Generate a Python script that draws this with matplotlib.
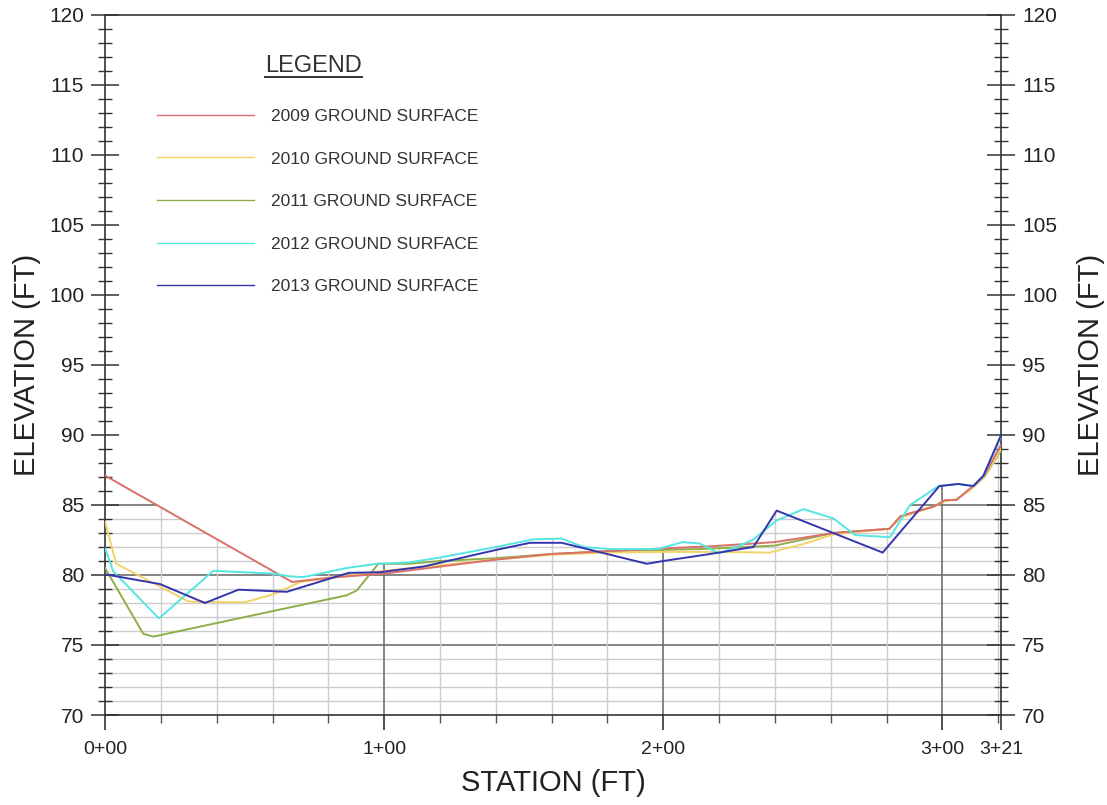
import numpy as np
import matplotlib.pyplot as plt
from matplotlib.lines import Line2D
from matplotlib.patches import Polygon
from matplotlib.ticker import FixedLocator, MultipleLocator

plt.rcParams['font.family'] = ['Liberation Sans', 'DejaVu Sans']

# ground surface surveys: station (ft) / elevation (ft)
st_2009 = [0, 67, 80, 100, 120, 140, 160, 180, 200, 217, 240, 261, 281, 285, 297, 301, 305, 310, 315, 321]
el_2009 = [87.1, 79.5, 79.8, 80.1, 80.6, 81.1, 81.5, 81.7, 81.9, 82.05, 82.35, 83.0, 83.3, 84.2, 84.9, 85.35,
           85.35, 86.2, 87.1, 89.3]

st_2010 = [0, 4, 30, 50, 60, 70, 85, 100, 120, 140, 160, 180, 200, 220, 238, 250, 261, 281, 285, 297, 301,
           305, 310, 315, 321]
el_2010 = [83.8, 80.8, 78.1, 78.05, 78.6, 79.5, 79.9, 80.3, 80.7, 81.1, 81.45, 81.6, 81.65, 81.65, 81.6,
           82.2, 82.9, 83.3, 84.1, 84.9, 85.3, 85.4, 86.1, 87.0, 89.0]

st_2011 = [0, 13.7, 17.3, 86.6, 90.2, 97.9, 109, 120, 140, 160, 180, 200, 213, 240, 261, 281, 285, 297, 301,
           305, 310, 315, 321]
el_2011 = [80.5, 75.8, 75.6, 78.55, 78.9, 80.8, 80.8, 81.0, 81.2, 81.5, 81.7, 81.8, 81.85, 82.1, 83.0, 83.3,
           84.2, 84.9, 85.3, 85.4, 86.1, 87.0, 88.9]

st_2012 = [0, 3, 19.3, 38.8, 60.3, 66.3, 71, 86.6, 97.3, 109, 120, 140, 153.5, 163.6, 171.4, 181, 198, 207,
           213, 220, 226, 232, 240.6, 250.2, 260.9, 268.7, 281.2, 288.4, 298.6, 305.7, 311, 314.7, 321]
el_2012 = [81.9, 80.25, 76.9, 80.3, 80.1, 79.9, 79.85, 80.5, 80.8, 80.9, 81.25, 82.0, 82.55, 82.6, 82.0,
           81.85, 81.85, 82.35, 82.25, 81.55, 82.0, 82.5, 83.9, 84.7, 84.05, 82.85, 82.7, 85.0, 86.35, 86.5,
           86.35, 87.1, 89.9]

st_2013 = [0, 19.7, 35.8, 47.8, 65.1, 87.2, 98.5, 114, 140.3, 152.3, 163.6, 194.1, 200, 216.8, 232.3, 240.6,
           278.6, 298.9, 305.7, 311.1, 314.7, 321]
el_2013 = [80.05, 79.35, 78.0, 78.95, 78.8, 80.15, 80.2, 80.6, 81.8, 82.3, 82.3, 80.8, 81.0, 81.5, 82.0,
           84.6, 81.6, 86.35, 86.5, 86.35, 87.1, 90.0]

labels = ['2009 GROUND SURFACE', '2010 GROUND SURFACE', '2011 GROUND SURFACE',
          '2012 GROUND SURFACE', '2013 GROUND SURFACE']
colors = ['#d9706a', '#f0d468', '#8fae4a', '#55e6e2', '#3535b0']
zorders = [3.3, 3.2, 3.1, 3.4, 3.5]

station_ticks = [0, 100, 200, 300, 321]
station_labels = ['0+00', '1+00', '2+00', '3+00', '3+21']

series = [(st_2009, el_2009), (st_2010, el_2010), (st_2011, el_2011), (st_2012, el_2012), (st_2013, el_2013)]

fig = plt.figure(figsize=(11.07, 8.05), dpi=100)
ax = fig.add_axes([0.0949, 0.1118, 0.8094, 0.8696])
ax.set_xlim(0, 321)
ax.set_ylim(70, 120)

# right-hand elevation label
ax2 = ax.twinx()
ax2.set_ylim(70, 120)
ax2.set_yticks([])
for sp in ax2.spines.values():
    sp.set_visible(False)
ax2.set_ylabel('ELEVATION (FT)', fontsize=21, color='#222222', rotation=90)
ax2.yaxis.set_label_coords(1.085, 0.5)

# grid only below the ground line
xs = np.linspace(0, 321, 1000)
env = np.max([np.interp(xs, s, e) for s, e in series], axis=0)
clip = Polygon(np.column_stack([np.r_[xs, 321, 0], np.r_[env, 70, 70]]), closed=True,
               facecolor='none', edgecolor='none', transform=ax.transData)
ax.add_patch(clip)

grid = []
for y in range(71, 86):
    major = y % 5 == 0
    grid.append(ax.axhline(y, color='#707070' if major else '#cccccc', lw=1.2 if major else 1.0, zorder=1))
for x in range(20, 321, 20):
    major = x % 100 == 0
    grid.append(ax.axvline(x, color='#707070' if major else '#cccccc', lw=1.2 if major else 1.0, zorder=1))
for g in grid:
    g.set_clip_path(clip)

for (s, e), c, z in zip(series, colors, zorders):
    ax.plot(s, e, color=c, lw=1.4, zorder=z)

# legend
handles = [Line2D([], [], color=c, lw=1.0) for c in colors]
leg = ax.legend(handles, labels, loc='upper left', bbox_to_anchor=(0.058, 0.866), frameon=False,
                fontsize=12.5, handlelength=5.6, handletextpad=0.95, labelspacing=1.58,
                borderpad=0, borderaxespad=0)
for t in leg.get_texts():
    t.set_color('#333333')
ax.text(0.2325, 0.927, 'LEGEND', transform=ax.transAxes, ha='center', va='center',
        fontsize=17, color='#333333')
ax.plot([0.1786, 0.2868], [0.911, 0.911], transform=ax.transAxes, color='#333333', lw=1.4)

# axes / ticks
for sp in ax.spines.values():
    sp.set_color('#333333')
    sp.set_linewidth(1.2)

ax.yaxis.set_major_locator(MultipleLocator(5))
ax.yaxis.set_minor_locator(MultipleLocator(1))
ax.xaxis.set_major_locator(FixedLocator(station_ticks))
ax.xaxis.set_minor_locator(MultipleLocator(20))
ax.set_xticklabels(station_labels)

ax.tick_params(axis='y', which='both', direction='inout', left=True, right=True,
               labelleft=True, labelright=True, colors='#333333', labelcolor='#222222')
ax.tick_params(axis='y', which='major', length=20, width=1.1, labelsize=15, pad=5)
ax.tick_params(axis='y', which='minor', length=10, width=1.0)
ax.tick_params(axis='x', which='major', direction='out', length=11, width=1.2,
               labelsize=14, pad=8, colors='#333333', labelcolor='#222222')
ax.tick_params(axis='x', which='minor', direction='out', length=6, width=1.0, colors='#555555')

ax.set_ylabel('ELEVATION (FT)', fontsize=21, color='#222222')
ax.yaxis.set_label_coords(-0.072, 0.5)
ax.set_xlabel('STATION (FT)', fontsize=21, color='#222222')
ax.xaxis.set_label_coords(0.5, -0.077)

fig.savefig('out.png', dpi=100)
